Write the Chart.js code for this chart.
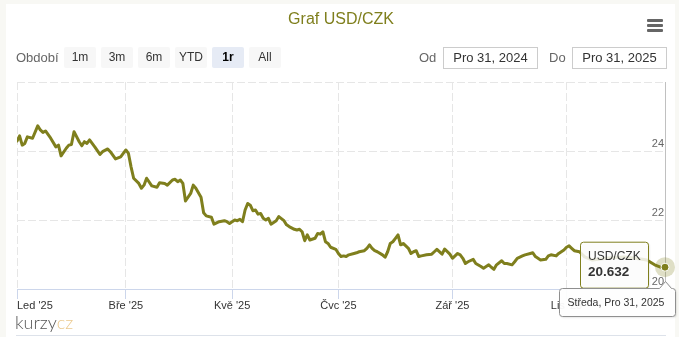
<!DOCTYPE html>
<html>
<head>
<meta charset="utf-8">
<script src="https://cdn.jsdelivr.net/npm/chart.js@4"></script>
<style>
  html, body { margin: 0; padding: 0; }
  body { width: 679px; height: 337px; background: #f8f8f4; position: relative; overflow: hidden;
         font-family: "Liberation Sans", Arial, sans-serif; }
  #panel { position: absolute; left: 6px; top: 4px; width: 669px; height: 333px; background: #fff; }
  #chart { position: absolute; left: 0; top: 0; }
  .lbl { position: absolute; top: 47px; height: 21px; line-height: 21px; font-size: 13px; color: #666; }
  .btn { position: absolute; top: 47px; width: 32px; height: 21px; line-height: 21px; background: #f7f7f7;
         border-radius: 2px; text-align: center; font-size: 12px; color: #333; }
  .btn.sel { background: #e6ebf5; font-weight: bold; color: #000; }
  .inp { position: absolute; top: 47px; width: 93px; height: 20px; line-height: 20px; border: 1px solid #ccc;
         text-align: center; font-size: 13px; color: #333; background: #fff; }
  .bar { position: absolute; left: 647px; width: 16px; height: 3px; background: #666; border-radius: 1px; }
  #logo { position: absolute; left: 15px; top: 313px; font-family: Lato, "Liberation Sans", sans-serif;
          font-weight: 300; font-size: 18px; line-height: 18px; color: #555; }
  #logo span { color: #ebc98e; }
  #nav { position: absolute; left: 16px; top: 335px; width: 650px; height: 1px; background: #dde2ea; }
</style>
</head>
<body>
<div id="panel"></div>
<canvas id="chart" width="679" height="337"></canvas>

<div class="lbl" style="left:16px;">Období</div>
<div class="btn" style="left:64px;">1m</div>
<div class="btn" style="left:101px;">3m</div>
<div class="btn" style="left:138px;">6m</div>
<div class="btn" style="left:175px;">YTD</div>
<div class="btn sel" style="left:212px;">1r</div>
<div class="btn" style="left:249px;">All</div>

<div class="lbl" style="left:419px;">Od</div>
<div class="inp" style="left:443px;">Pro 31, 2024</div>
<div class="lbl" style="left:549px;">Do</div>
<div class="inp" style="left:572px;">Pro 31, 2025</div>

<div class="bar" style="top:19px;"></div>
<div class="bar" style="top:24px;"></div>
<div class="bar" style="top:29px;"></div>

<div id="logo">kurzy<span>cz</span></div>
<div id="nav"></div>

<script>
// Trading-session index (0 = first session of 2025, 250 = 31 Dec 2025) and USD/CZK closing rate
const sessionIdx = [
  0, 1, 2, 3, 4, 6, 8, 9, 10, 11, 13, 15, 16, 17, 19, 20, 21, 22, 24, 25,
  26, 27, 28, 30, 32, 33, 35, 36, 38, 40, 42, 43, 44, 45, 47, 48, 49, 50, 52, 54,
  55, 57, 58, 60, 61, 62, 63, 64, 65, 67, 68, 69, 71, 72, 73, 75, 76, 78, 80, 81,
  82, 84, 85, 86, 87, 88, 89, 90, 91, 92, 93, 94, 95, 96, 97, 98, 100, 101, 103, 104,
  105, 107, 108, 109, 110, 111, 112, 113, 115, 116, 117, 118, 119, 120, 121, 123, 124, 125, 126, 127,
  128, 130, 131, 132, 134, 135, 136, 137, 138, 139, 141, 142, 143, 144, 145, 146, 147, 148, 149, 151,
  152, 153, 154, 155, 156, 158, 160, 161, 162, 164, 165, 167, 168, 170, 171, 172, 173, 174, 176, 177,
  179, 180, 182, 183, 184, 185, 187, 188, 189, 191, 192, 193, 195, 196, 198, 199, 200, 202, 204, 205,
  206, 208, 209, 211, 212, 213, 214, 215, 217, 219, 222, 228, 234, 238, 243, 246, 248, 250
];
const usdCzk = [
  24.29, 24.44, 24.17, 24.22, 24.41, 24.37, 24.73, 24.61, 24.54, 24.58, 24.37, 24.12, 24.17, 23.86, 24.08, 24.17, 24.19, 24.56, 24.27, 24.15,
  24.27, 24.22, 24.32, 24.12, 23.90, 23.98, 24.06, 23.98, 23.77, 23.83, 24.03, 23.93, 23.54, 23.21, 23.06, 22.92, 23.01, 23.21, 22.99, 22.95,
  23.08, 23.06, 23.01, 23.16, 23.18, 23.11, 23.16, 23.06, 22.55, 22.77, 23.01, 22.92, 22.66, 22.21, 22.12, 22.08, 21.88, 21.95, 21.98, 21.95,
  21.90, 22.00, 21.98, 22.02, 21.95, 22.29, 22.48, 22.43, 22.27, 22.29, 22.17, 22.19, 22.05, 22.00, 22.05, 21.88, 21.98, 22.10, 21.98, 21.86,
  21.81, 21.73, 21.71, 21.73, 21.66, 21.40, 21.57, 21.42, 21.47, 21.61, 21.59, 21.66, 21.37, 21.32, 21.21, 21.15, 21.03, 20.94, 20.96, 20.94,
  20.99, 21.03, 21.05, 21.08, 21.11, 21.18, 21.28, 21.18, 21.11, 21.08, 20.99, 20.92, 21.08, 21.32, 21.37, 21.47, 21.57, 21.28, 21.32, 21.18,
  21.03, 21.08, 21.11, 20.94, 20.96, 20.99, 21.01, 21.08, 21.15, 21.01, 21.16, 21.01, 20.89, 21.03, 20.99, 20.89, 20.74, 20.79, 20.86, 20.74,
  20.65, 20.60, 20.70, 20.63, 20.57, 20.70, 20.82, 20.74, 20.74, 20.70, 20.79, 20.89, 20.96, 20.99, 21.03, 21.05, 20.94, 20.84, 20.86, 20.96,
  20.99, 20.96, 21.03, 21.13, 21.21, 21.25, 21.18, 21.11, 21.08, 20.93, 20.84, 20.90, 20.93, 20.90, 20.84, 20.70, 20.64, 20.632
];

// First trading session of each labelled month
const monthTickIdx = [0, 42, 83, 124, 168, 212];
const monthLabels = ["Led '25", "Bře '25", "Kvě '25", "Čvc '25", "Zář '25", "Lis '25"];
const rateTicks = [20, 22, 24, 26];
const lastSession = 250;
const seriesName = 'USD/CZK';
const lastDateLabel = 'Středa, Pro 31, 2025';

const OLIVE = '#7f7f1d';
const FONT = '"Liberation Sans", Arial, sans-serif';
Chart.defaults.font.family = FONT;

const points = sessionIdx.map((x, i) => ({ x, y: usdCzk[i] }));
const xTickValues = monthTickIdx.concat([lastSession]);

function boxPath(ctx, x, y, w, h, r, arrowX) {
  ctx.beginPath();
  ctx.moveTo(x + r, y);
  if (arrowX !== undefined) {
    ctx.lineTo(arrowX - 6, y);
    ctx.lineTo(arrowX, y - 7);
    ctx.lineTo(arrowX + 6, y);
  }
  ctx.lineTo(x + w - r, y);
  ctx.arcTo(x + w, y, x + w, y + r, r);
  ctx.lineTo(x + w, y + h - r);
  ctx.arcTo(x + w, y + h, x + w - r, y + h, r);
  ctx.lineTo(x + r, y + h);
  ctx.arcTo(x, y + h, x, y + h - r, r);
  ctx.lineTo(x, y + r);
  ctx.arcTo(x, y, x + r, y, r);
  ctx.closePath();
}

// Hover state on the latest session: halo, marker, value box and date box
const hoverState = {
  id: 'hoverState',
  afterDatasetsDraw(chart) {
    const meta = chart.getDatasetMeta(0);
    const pt = meta.data[meta.data.length - 1];
    const ctx = chart.ctx;
    ctx.save();
    ctx.beginPath();
    ctx.arc(pt.x, pt.y, 10, 0, Math.PI * 2);
    ctx.fillStyle = 'rgba(127,127,29,0.25)';
    ctx.fill();
    ctx.beginPath();
    ctx.arc(pt.x, pt.y, 4, 0, Math.PI * 2);
    ctx.fillStyle = OLIVE;
    ctx.fill();
    ctx.lineWidth = 1;
    ctx.strokeStyle = '#ffffff';
    ctx.stroke();
    ctx.restore();
  },
  afterDraw(chart) {
    const meta = chart.getDatasetMeta(0);
    const pt = meta.data[meta.data.length - 1];
    const ctx = chart.ctx;
    const value = usdCzk[usdCzk.length - 1];

    // value box
    const bx = pt.x - 85, by = pt.y - 25.5, bw = 68, bh = 46;
    ctx.save();
    ctx.shadowColor = 'rgba(0,0,0,0.12)';
    ctx.shadowOffsetX = 1; ctx.shadowOffsetY = 1; ctx.shadowBlur = 2;
    boxPath(ctx, bx + 0.5, by + 0.5, bw, bh, 3);
    ctx.fillStyle = 'rgba(255,255,255,0.85)';
    ctx.fill();
    ctx.shadowColor = 'transparent';
    ctx.strokeStyle = OLIVE;
    ctx.lineWidth = 1;
    ctx.stroke();
    ctx.fillStyle = '#333';
    ctx.textBaseline = 'middle';
    ctx.textAlign = 'left';
    ctx.font = '12px ' + FONT;
    ctx.fillText(seriesName, bx + 8, by + 15);
    ctx.font = 'bold 13.5px ' + FONT;
    ctx.fillText(value.toFixed(3), bx + 8, by + 30.5);
    ctx.restore();

    // date box under the axis
    const dx = pt.x - 106, dy = chart.chartArea.bottom - 1, dw = 116, dh = 28;
    ctx.save();
    ctx.shadowColor = 'rgba(0,0,0,0.15)';
    ctx.shadowOffsetX = 1; ctx.shadowOffsetY = 1; ctx.shadowBlur = 2;
    boxPath(ctx, dx + 0.5, dy + 0.5, dw, dh, 3, pt.x + 0.5);
    ctx.fillStyle = 'rgba(255,255,255,0.95)';
    ctx.fill();
    ctx.shadowColor = 'transparent';
    ctx.strokeStyle = '#8f8f8f';
    ctx.lineWidth = 1;
    ctx.stroke();
    ctx.fillStyle = '#333';
    ctx.textBaseline = 'middle';
    ctx.textAlign = 'left';
    ctx.font = '10.5px ' + FONT;
    ctx.fillText(lastDateLabel, dx + 8.5, dy + 15);
    ctx.restore();
  }
};

new Chart(document.getElementById('chart'), {
  type: 'line',
  data: {
    datasets: [{
      label: seriesName,
      data: points,
      borderColor: OLIVE,
      borderWidth: 3,
      borderJoinStyle: 'round',
      borderCapStyle: 'round',
      pointRadius: 0,
      tension: 0,
      fill: false
    }]
  },
  options: {
    responsive: false,
    animation: false,
    layout: { padding: { left: 17, right: 14, top: 0, bottom: 0 } },
    plugins: {
      legend: { display: false },
      tooltip: { enabled: false },
      title: {
        display: true,
        text: 'Graf USD/CZK',
        color: OLIVE,
        font: { size: 16, weight: 'normal' },
        padding: { top: 10, bottom: 52.8 }
      }
    },
    scales: {
      x: {
        type: 'linear',
        min: 0,
        max: lastSession,
        afterBuildTicks: s => { s.ticks = xTickValues.map(v => ({ value: v })); },
        afterFit: s => { s.height = 48; },
        ticks: {
          autoSkip: false,
          maxRotation: 0,
          align: 'inner',
          padding: 0,
          color: '#333',
          font: { size: 11 },
          callback: v => { const k = monthTickIdx.indexOf(v); return k < 0 ? '' : monthLabels[k]; }
        },
        grid: {
          color: c => (c.tick && c.tick.value === lastSession) ? 'rgba(0,0,0,0)' : '#e6e6e6',
          tickColor: c => (c.tick && c.tick.value === lastSession) ? 'rgba(0,0,0,0)' : '#ccd6eb',
          tickLength: 10,
          drawTicks: true
        },
        border: { display: true, color: '#ccd6eb', width: 1, dash: [8, 3] }
      },
      y: {
        position: 'right',
        min: 20,
        max: 26,
        afterBuildTicks: s => { s.ticks = rateTicks.map(v => ({ value: v })); },
        afterFit: s => { s.width = 0; },
        ticks: {
          mirror: true,
          padding: -1,
          labelOffset: -7,
          color: '#666',
          font: { size: 11 },
          callback: v => (v === 26 ? '' : String(v))
        },
        grid: { color: '#e6e6e6', drawTicks: false },
        border: { display: true, color: '#c0c0c0', width: 1, dash: [8, 3] }
      }
    }
  },
  plugins: [hoverState]
});
</script>
</body>
</html>
